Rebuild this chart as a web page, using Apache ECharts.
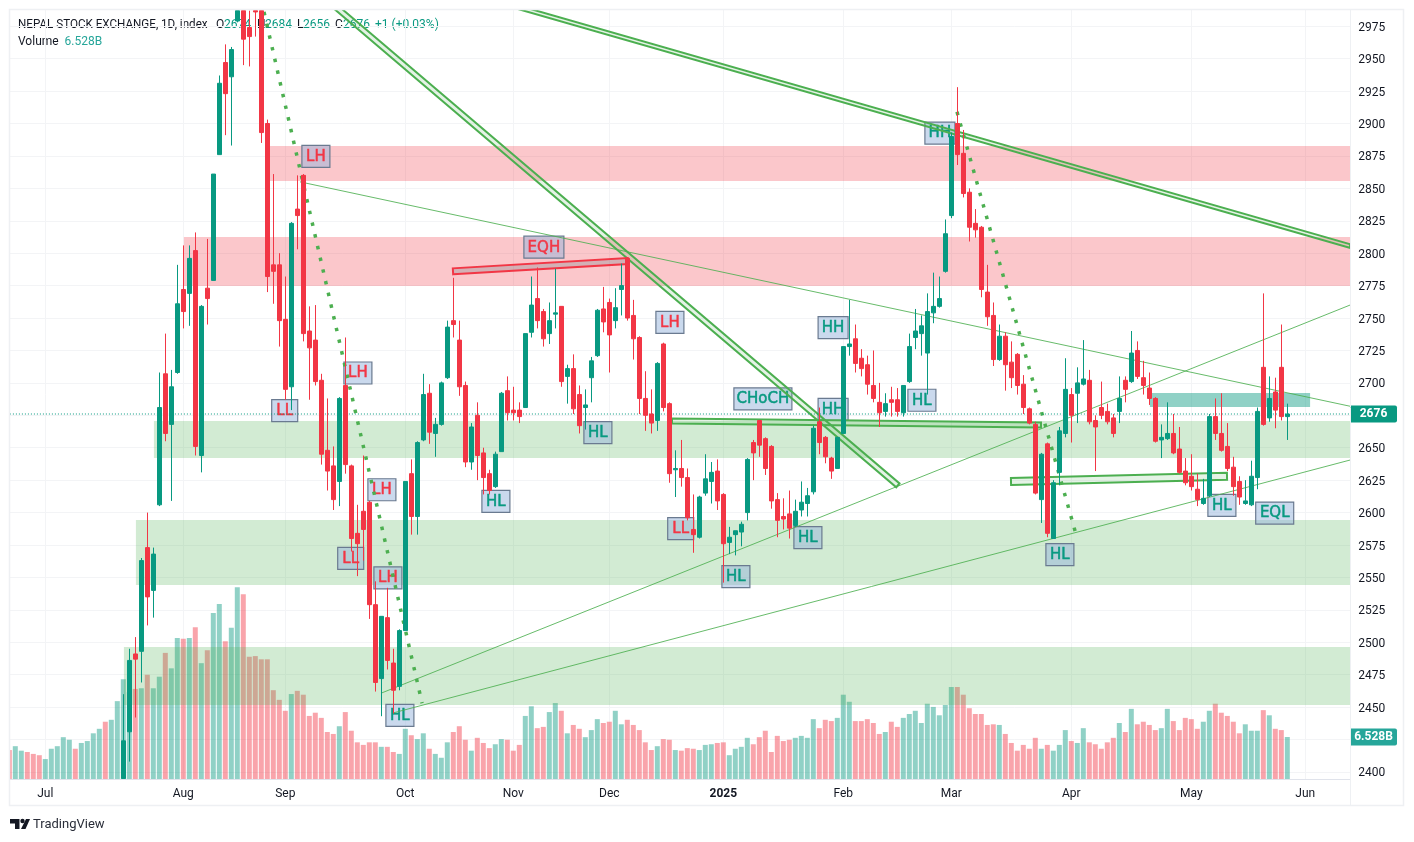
<!DOCTYPE html>
<html>
<head>
<meta charset="utf-8">
<title>NEPAL STOCK EXCHANGE</title>
<style>
  html, body { margin: 0; padding: 0; background: #fff; }
  #chart { width: 1414px; height: 842px; }
</style>
<script src="https://cdn.jsdelivr.net/npm/echarts@6/dist/echarts.min.js"></script>
</head>
<body>
<div id="chart"></div>
<script>
// month labels by bar slot, 214 sessions then empty slots up to the right edge
var monthSlots = { 6: 'Jul', 29: 'Aug', 46: 'Sep', 66: 'Oct', 84: 'Nov', 100: 'Dec', 119: '2025', 139: 'Feb', 157: 'Mar', 177: 'Apr', 197: 'May', 216: 'Jun' };
var slotCount = 224;

// volume in billions
var volumes = [
  4.5,5.1,4.4,4.2,3.9,3.7,3.1,4.7,5.1,6.5,6.1,4.7,5.6,5.9,7.1,7.8,8.9,9.2,12.1,15.5,
  13.5,14.0,14.1,16.2,14.1,15.9,19.6,17.2,21.9,21.8,21.9,23.6,18.0,20.0,25.8,27.2,21.4,23.5,29.8,28.7,
  19.0,19.1,18.6,18.6,13.8,12.3,10.6,13.2,13.7,13.1,9.8,10.3,9.5,7.3,7.0,8.2,10.4,7.5,5.7,5.3,
  5.7,5.7,5.0,5.0,4.2,3.9,7.8,6.8,6.2,7.1,4.7,3.9,3.3,5.7,7.3,8.2,6.1,4.4,6.4,5.6,
  4.8,5.4,6.2,6.1,4.4,5.3,9.8,11.3,7.9,8.1,10.4,11.8,10.6,7.1,8.4,7.8,6.5,7.6,9.3,8.7,
  8.9,10.6,8.5,9.2,8.4,7.6,5.7,4.5,5.1,6.2,6.1,4.5,4.4,4.8,4.7,4.5,5.3,5.4,5.6,5.7,
  3.7,4.7,5.0,6.4,5.4,6.5,7.5,4.2,6.7,5.9,6.1,6.4,6.7,6.4,9.3,7.9,9.2,9.0,9.5,13.1,
  12.0,9.0,9.0,9.3,8.7,7.0,7.3,8.9,8.1,9.5,10.1,10.6,8.7,11.7,11.2,9.9,11.5,14.3,14.3,13.1,
  11.0,10.1,10.1,8.4,8.5,8.4,7.0,5.6,4.4,5.3,4.7,6.4,4.7,5.3,4.4,5.3,7.6,5.9,5.6,7.9,
  5.7,5.4,4.7,5.7,6.4,8.7,7.3,10.9,8.5,8.9,8.4,7.6,7.9,10.9,9.0,7.6,9.5,9.3,7.8,8.9,
  10.6,11.7,10.3,9.8,8.9,7.1,8.5,7.5,7.5,10.7,9.9,7.8,7.6,6.528
];
// sessions before the first visible candle that closed down (their candles sit below the pane)
var earlyDown = [0, 3, 4, 5, 11, 16];
var firstCandle = 19;

// open, close, low, high from firstCandle on
var ohlc = [
  [2395,2424,2395,2460],[2431,2486,2408,2495],[2491,2487,2442,2504],[2493,2563,2469,2565],[2573,2535,2513,2600],
  [2540,2568,2519,2573],[2606,2681,2605,2708],[2707,2661,2655,2738],[2668,2697,2609,2710],[2708,2761,2707,2791],
  [2772,2755,2742,2806],[2769,2796,2744,2806],[2802,2651,2644,2816],[2644,2759,2631,2760],[2773,2765,2745,2811],
  [2779,2861,2779,2861],[2876,2931,2876,2937],[2947,2923,2891,2961],[2936,2957,2883,2959],[2979,2987,2978,2987],
  [2987,2965,2945,2987],[2974,2967,2944,2987],[2987,2986,2967,2987],[2987,2893,2885,2987],[2900,2782,2770,2903],
  [2791,2786,2761,2861],[2791,2748,2728,2800],[2749,2695,2687,2782],[2697,2823,2679,2824],[2834,2829,2803,2860],
  [2860,2738,2732,2861],[2740,2727,2687,2759],[2733,2701,2698,2760],[2702,2645,2637,2707],[2648,2632,2617,2688],
  [2636,2610,2602,2651],[2624,2688,2605,2689],[2698,2637,2630,2735],[2636,2580,2570,2637],[2584,2576,2551,2606],
  [2601,2587,2563,2644],[2608,2529,2518,2609],[2529,2469,2462,2547],[2472,2520,2443,2520],[2519,2486,2479,2542],
  [2484,2463,2445,2495],[2466,2509,2463,2510],[2509,2624,2509,2624],[2630,2597,2583,2641],[2597,2654,2583,2655],
  [2656,2691,2655,2707],[2692,2662,2653,2699],[2661,2668,2643,2673],[2668,2700,2667,2701],[2704,2743,2703,2748],
  [2748,2745,2735,2781],[2733,2697,2690,2748],[2698,2639,2635,2701],[2639,2666,2633,2669],[2675,2644,2625,2685],
  [2646,2627,2614,2650],[2630,2617,2614,2633],[2620,2645,2619,2647],[2647,2692,2647,2693],[2694,2677,2671,2705],
  [2679,2677,2671,2697],[2679,2674,2669,2685],[2681,2738,2681,2738],[2739,2760,2735,2782],[2765,2748,2742,2789],
  [2755,2734,2728,2757],[2738,2748,2730,2762],[2753,2754,2742,2788],[2759,2701,2697,2759],[2705,2711,2684,2714],
  [2711,2680,2676,2722],[2691,2667,2661,2698],[2681,2683,2664,2695],[2704,2717,2685,2720],[2721,2756,2720,2757],
  [2757,2747,2739,2774],[2762,2737,2708,2765],[2748,2758,2742,2773],[2772,2775,2752,2792],[2796,2750,2748,2797],
  [2752,2734,2718,2764],[2735,2688,2676,2736],[2688,2675,2663,2709],[2676,2669,2661,2695],[2671,2715,2663,2716],
  [2730,2681,2678,2731],[2684,2630,2623,2685],[2633,2634,2612,2648],[2634,2627,2620,2656],[2627,2596,2594,2634],
  [2587,2583,2569,2614],[2581,2612,2580,2613],[2615,2626,2613,2645],[2624,2631,2607,2639],[2632,2609,2602,2641],
  [2614,2576,2546,2615],[2577,2581,2568,2589],[2583,2586,2567,2586],[2585,2591,2574,2593],[2600,2641,2594,2642],
  [2654,2646,2625,2656],[2671,2652,2643,2671],[2657,2634,2629,2658],[2651,2609,2603,2652],[2610,2594,2581,2615],
  [2597,2595,2587,2611],[2599,2588,2580,2617],[2590,2601,2589,2610],[2602,2608,2597,2624],[2607,2613,2597,2619],
  [2616,2665,2614,2667],[2670,2654,2645,2681],[2658,2643,2638,2659],[2642,2632,2626,2643],[2634,2658,2634,2658],
  [2661,2728,2661,2728],[2728,2730,2721,2764],[2734,2715,2708,2745],[2719,2711,2705,2726],[2714,2699,2691,2721],
  [2698,2688,2685,2725],[2685,2677,2666,2700],[2678,2684,2674,2692],[2687,2685,2674,2697],[2687,2678,2674,2696],
  [2677,2698,2674,2698],[2701,2728,2700,2738],[2735,2740,2726,2757],[2738,2744,2721,2752],[2723,2755,2691,2769],
  [2754,2759,2746,2785],[2759,2765,2758,2782],[2786,2815,2785,2826],[2829,2890,2827,2893],[2900,2876,2868,2928],
  [2877,2846,2843,2895],[2847,2820,2809,2850],[2823,2818,2812,2834],[2820,2772,2766,2821],[2770,2751,2744,2791],
  [2752,2718,2713,2762],[2718,2736,2717,2745],[2736,2714,2694,2739],[2716,2704,2696,2732],[2722,2698,2691,2723],
  [2699,2681,2676,2706],[2680,2669,2668,2681],[2668,2615,2614,2670],[2610,2645,2592,2646],[2653,2584,2581,2654],
  [2580,2623,2580,2625],[2631,2663,2621,2666],[2661,2695,2658,2719],[2691,2675,2654,2696],[2692,2700,2669,2712],
  [2699,2703,2698,2733],[2702,2670,2668,2710],[2671,2666,2632,2675],[2681,2675,2672,2701],[2678,2670,2668,2684],
  [2673,2661,2658,2676],[2678,2688,2669,2705],[2702,2695,2685,2705],[2701,2723,2700,2740],[2725,2705,2703,2732],
  [2704,2698,2691,2717],[2696,2688,2683,2708],[2688,2655,2654,2689],[2656,2658,2642,2668],[2657,2661,2656,2685],
  [2661,2646,2645,2676],[2649,2631,2630,2666],[2632,2623,2621,2642],[2628,2620,2617,2645],[2618,2610,2605,2630],
  [2607,2611,2606,2626],[2613,2674,2612,2676],[2674,2661,2656,2688],[2661,2648,2647,2692],[2651,2634,2632,2669],
  [2635,2620,2613,2643],[2624,2612,2606,2628],[2607,2609,2606,2625],[2606,2628,2605,2640],[2627,2678,2618,2681],
  [2712,2668,2667,2769],[2673,2688,2670,2705],[2693,2679,2665,2704],[2712,2674,2671,2745],[2674,2676,2656,2684]
];
var lastPrice = 2676;
var lastVolume = 6.528;

// annotations, slot position and price
var pinkZones = [
  [42.8, 223.5, 2855.7, 2882.6],
  [29.1, 223.5, 2774.7, 2812.5]
];
var greenZones = [
  [24.1, 223.5, 2642, 2670.6],
  [21.1, 223.5, 2544.2, 2594.3],
  [19.1, 223.5, 2451.7, 2496.4]
];
var tealZones = [
  [190.1, 216.8, 2681.4, 2692.2]
];
var channels = [
  [53.1, 2995, 148.1, 2621, 5],
  [80.6, 2995.2, 223.45, 2805.5, 3.5],
  [110.45, 2670.6, 171.95, 2667.5, 5],
  [166.95, 2624, 202.95, 2628, 7]
];
var eqhChannel = [[73.95, 2786, 103.1, 2794, 6]];
var thinLines = [
  [[48.45, 2855], [223.45, 2682]],
  [[62.1, 2461], [223.45, 2760]],
  [[63.95, 2445.5], [223.45, 2640.5]]
];
var dottedLines = [
  [[42.45, 2986], [68.8, 2453]],
  [[157.95, 2909], [177.8, 2583]]
];
var pivotLabels = [
  [51.1, 2875, 'LH'], [45.9, 2679, 'LL'], [58.1, 2708, 'LH'], [62.1, 2618, 'LH'], [56.9, 2565, 'LL'],
  [63.1, 2550, 'LH'], [65.1, 2444, 'HL'], [89.1, 2805, 'EQH'], [81.1, 2609, 'HL'], [98.1, 2662, 'HL'],
  [110.1, 2747, 'LH'], [111.9, 2588, 'LL'], [121.1, 2551, 'HL'], [133.1, 2581, 'HL'], [125.6, 2688, 'CHoCH'],
  [137.3, 2680, 'HH'], [137.3, 2743, 'HH'], [155.1, 2893, 'HH'], [152.1, 2687, 'HL'], [175.1, 2568, 'HL'],
  [202.1, 2606, 'HL'], [210.9, 2600, 'EQL']
];

var UP = '#089981', DOWN = '#f23645', LINE = '#4caf50', INK = '#131722', GRID = '#f3f4f6';
var FONT = 'Roboto, sans-serif';
var labelWidth = { LH: 28, LL: 26, HL: 28, HH: 30, EQH: 40, EQL: 38, CHoCH: 58 };
var bearish = { LH: 1, LL: 1, EQH: 1 };

var categories = [];
for (var s = 0; s < slotCount; s++) {
  categories.push(monthSlots[s] || '');
}
var candleData = [];
for (var c = 0; c < volumes.length; c++) {
  candleData.push(c < firstCandle ? ['-', '-', '-', '-'] : ohlc[c - firstCandle]);
}

function isDown(i) {
  if (i < firstCandle) {
    return earlyDown.indexOf(i) >= 0;
  }
  return ohlc[i - firstCandle][1] < ohlc[i - firstCandle][0];
}

function zoneSeries(rows, fill, z) {
  return {
    type: 'custom', xAxisIndex: 2, yAxisIndex: 1, z: z, silent: true, data: rows,
    renderItem: function (params, api) {
      var a = api.coord([api.value(0), api.value(3)]);
      var b = api.coord([api.value(1), api.value(2)]);
      return { type: 'rect', shape: { x: a[0], y: a[1], width: b[0] - a[0], height: b[1] - a[1] }, style: { fill: fill } };
    }
  };
}

// thin rotated rectangle between two chart points
function channelSeries(rows, stroke, fill, lineWidth, z) {
  return {
    type: 'custom', xAxisIndex: 2, yAxisIndex: 1, z: z, silent: true, clip: true, data: rows,
    renderItem: function (params, api) {
      var a = api.coord([api.value(0), api.value(1)]);
      var b = api.coord([api.value(2), api.value(3)]);
      var half = api.value(4) / 2;
      var dx = b[0] - a[0], dy = b[1] - a[1];
      var len = Math.sqrt(dx * dx + dy * dy);
      var nx = -dy / len * half, ny = dx / len * half;
      return {
        type: 'polygon',
        shape: { points: [[a[0] + nx, a[1] + ny], [b[0] + nx, b[1] + ny], [b[0] - nx, b[1] - ny], [a[0] - nx, a[1] - ny]] },
        style: { fill: fill, stroke: stroke, lineWidth: lineWidth }
      };
    }
  };
}

function lineSeries(points, color, width, type, z) {
  return {
    type: 'line', xAxisIndex: 2, yAxisIndex: 1, z: z, silent: true, data: points, symbol: 'none',
    animation: false, lineStyle: { color: color, width: width, type: type }
  };
}

function priceTagSeries(value, text, fill, xAxisIndex, yAxisIndex, xValue) {
  return {
    type: 'custom', xAxisIndex: xAxisIndex, yAxisIndex: yAxisIndex, z: 8, silent: true, data: [[xValue, value]],
    renderItem: function (params, api) {
      var p = api.coord([api.value(0), api.value(1)]);
      return {
        type: 'group',
        children: [
          { type: 'rect', shape: { x: 1350, y: p[1] - 8.5, width: 47, height: 17, r: [0, 2, 2, 0] }, style: { fill: fill } },
          { type: 'text', style: { x: 1373.5, y: p[1], text: text, fill: '#fff', font: 'bold 12px ' + FONT, align: 'center', verticalAlign: 'middle' } }
        ]
      };
    }
  };
}

var series = [
  {
    type: 'bar', xAxisIndex: 0, yAxisIndex: 0, z: 1, data: volumes, barWidth: 5, silent: true,
    itemStyle: {
      color: function (p) {
        return isDown(p.dataIndex) ? 'rgba(242,54,69,0.45)' : 'rgba(8,153,129,0.45)';
      }
    }
  },
  zoneSeries(pinkZones, 'rgba(242,54,69,0.28)', 2),
  zoneSeries(greenZones, 'rgba(76,175,80,0.25)', 2),
  zoneSeries(tealZones, 'rgba(8,153,129,0.45)', 2),
  {
    type: 'custom', xAxisIndex: 2, yAxisIndex: 1, z: 3, silent: true, data: pivotLabels.map(function (r) { return [r[0], r[1]]; }),
    renderItem: function (params, api) {
      var p = api.coord([api.value(0), api.value(1)]);
      var text = pivotLabels[params.dataIndex][2];
      var w = labelWidth[text];
      var color = bearish[text] ? DOWN : UP;
      return {
        type: 'group',
        children: [
          { type: 'rect', shape: { x: p[0] - w / 2, y: p[1] - 10.5, width: w, height: 22 }, style: { fill: 'rgba(150,180,220,0.5)', stroke: '#6a7a90', lineWidth: 1.2 } },
          { type: 'text', style: { x: p[0], y: p[1] + 1, text: text, fill: color, stroke: color, lineWidth: 0.5, font: '15px "DejaVu Sans", sans-serif', align: 'center', verticalAlign: 'middle' } }
        ]
      };
    }
  },
  channelSeries(channels, LINE, 'rgba(76,175,80,0.15)', 2, 4),
  channelSeries(eqhChannel, DOWN, 'rgba(120,123,134,0.3)', 2, 4)
];
thinLines.forEach(function (pts) {
  series.push(lineSeries(pts, 'rgba(76,175,80,0.85)', 1, 'solid', 4));
});
dottedLines.forEach(function (pts) {
  series.push(lineSeries(pts, LINE, 3.5, [3.5, 8.5], 4));
});
series.push(lineSeries([[0.1, lastPrice], [223.45, lastPrice]], UP, 1, [1, 2], 4));
series.push({
  type: 'candlestick', xAxisIndex: 1, yAxisIndex: 1, z: 6, data: candleData, barWidth: 4, silent: true,
  itemStyle: { color: UP, color0: DOWN, borderColor: UP, borderColor0: DOWN, borderWidth: 1 }
});
series.push(priceTagSeries(lastPrice, String(lastPrice), UP, 2, 1, 223.5));
series.push(priceTagSeries(lastVolume, lastVolume + 'B', '#26a69a', 0, 0, 0));

function headerText(x, y, text, color, scaleX) {
  return { type: 'text', x: x, y: y, scaleX: scaleX || 1, style: { text: text, fill: color, font: '12px ' + FONT, verticalAlign: 'middle' } };
}

var myChart = echarts.init(document.getElementById('chart'), null, { renderer: 'canvas' });
myChart.setOption({
  animation: false,
  backgroundColor: '#fff',
  grid: [
    { left: 6.3, width: 1344, top: 10, height: 769 },
    { left: 6.3, width: 1344, top: 10, height: 794.4 }
  ],
  xAxis: [
    {
      type: 'category', gridIndex: 0, data: categories, boundaryGap: true,
      axisLine: { lineStyle: { color: '#e0e3eb' } }, axisTick: { show: false },
      axisLabel: {
        interval: 0, margin: 9, color: INK, fontSize: 12, fontFamily: FONT,
        formatter: function (v) { return v === '2025' ? '{y|2025}' : v; },
        rich: { y: { fontWeight: 'bold', fontSize: 12, fontFamily: FONT, color: INK } }
      },
      splitLine: {
        show: true, alignWithLabel: true, lineStyle: { color: GRID },
        interval: function (i, v) { return v !== ''; }
      }
    },
    { type: 'category', gridIndex: 1, data: categories, show: false },
    { type: 'value', gridIndex: 1, min: -0.5, max: 223.5, show: false }
  ],
  yAxis: [
    { type: 'value', gridIndex: 0, min: 0, max: 119.5, show: false },
    {
      type: 'value', gridIndex: 1, position: 'right', min: 2375, max: 2987.5, interval: 25,
      axisLine: { show: false }, axisTick: { show: false },
      axisLabel: {
        show: true, margin: 8, color: INK, fontSize: 12, fontFamily: FONT, showMinLabel: false, showMaxLabel: false,
        formatter: function (v) { return '{t|' + v + '}'; },
        rich: { t: { padding: [3, 0, 0, 0], color: INK, fontSize: 12, fontFamily: FONT } }
      },
      splitLine: { show: true, showMinLine: false, showMaxLine: false, lineStyle: { color: GRID } }
    }
  ],
  series: series,
  graphic: {
    elements: [
      { type: 'rect', z: 20, shape: { x: 0, y: 0, width: 9, height: 842 }, style: { fill: '#fff' } },
      { type: 'rect', z: 21, shape: { x: 9.5, y: 9.5, width: 1394, height: 796 }, style: { fill: 'none', stroke: '#eef0f3', lineWidth: 1.5 } },
      { type: 'line', z: 21, shape: { x1: 1350.5, y1: 10, x2: 1350.5, y2: 805 }, style: { stroke: '#eef0f3', lineWidth: 1 } },
      headerText(18, 25, 'NEPAL STOCK EXCHANGE, 1D, index', INK, 0.97),
      headerText(216, 25, 'O', INK), headerText(224, 25, '2674', UP),
      headerText(257, 25, 'H', INK), headerText(265, 25, '2684', UP),
      headerText(297, 25, 'L', INK), headerText(303, 25, '2656', UP),
      headerText(335, 25, 'C', INK), headerText(343, 25, '2676', UP),
      headerText(375, 25, '+1 (+0.03%)', UP),
      headerText(18, 42, 'Volume', INK), headerText(64.5, 42, '6.528B', '#26a69a'),
      { type: 'polygon', shape: { points: [[10, 819], [19.5, 819], [19.5, 829], [15, 829], [15, 823.5], [10, 823.5]] }, style: { fill: INK } },
      { type: 'circle', shape: { cx: 22.5, cy: 821, r: 2.2 }, style: { fill: INK } },
      { type: 'polygon', shape: { points: [[26, 819], [30, 819], [25.5, 829], [21, 829]] }, style: { fill: INK } },
      { type: 'text', x: 33, y: 825, style: { text: 'TradingView', fill: '#2a2e39', font: '13px ' + FONT, verticalAlign: 'middle' } }
    ]
  }
});
</script>
</body>
</html>
